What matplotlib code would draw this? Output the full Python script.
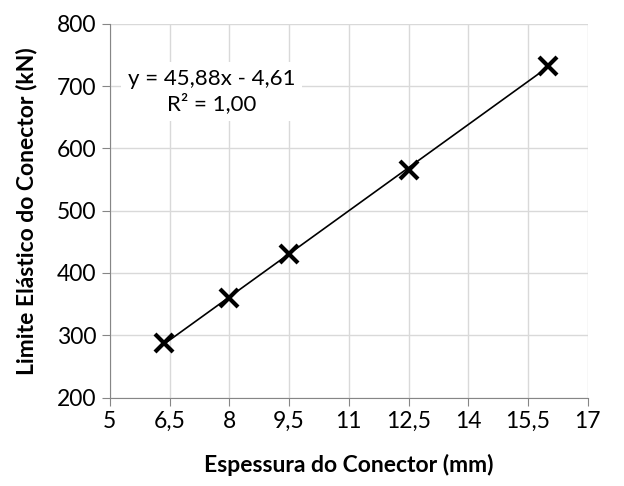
import numpy as np
import matplotlib.pyplot as plt
from matplotlib.ticker import FuncFormatter

plt.rcParams['font.family'] = ['Lato', 'DejaVu Sans']

# dados
espessura = [6.35, 8.0, 9.5, 12.5, 16.0]
limite = [288, 360, 430, 566, 733]
x_ticks = [5, 6.5, 8, 9.5, 11, 12.5, 14, 15.5, 17]
y_ticks = [200, 300, 400, 500, 600, 700, 800]

fig = plt.figure(figsize=(6.24, 4.86), dpi=100)
ax = fig.add_axes([0.176, 0.182, 0.766, 0.769])

ax.set_xlim(5, 17)
ax.set_ylim(200, 800)
ax.set_xticks(x_ticks)
ax.set_yticks(y_ticks)
ax.xaxis.set_major_formatter(FuncFormatter(lambda v, p: f"{v:g}".replace('.', ',')))
ax.grid(True, color='#d9d9d9', lw=1)
ax.set_axisbelow(True)
for s in ['top', 'right']:
    ax.spines[s].set_visible(False)
for s in ['left', 'bottom']:
    ax.spines[s].set_color('#868686')
ax.tick_params(colors='#868686', labelcolor='black', labelsize=16.5, length=6, direction='out')

# linha de tendência
coef = np.polyfit(espessura, limite, 1)
xl = np.array([min(espessura), max(espessura)])
ax.plot(xl, np.polyval(coef, xl), color='black', lw=1.2, zorder=3)
ax.plot(espessura, limite, 'x', color='black', ms=13, mew=3, zorder=4)

ax.text(7.55, 692, "y = 45,88x - 4,61\nR² = 1,00", ha='center', va='center',
        fontsize=16, linespacing=1.25,
        bbox=dict(fc='white', ec='none', pad=5), zorder=5)

ax.set_xlabel("Espessura do Conector (mm)", fontsize=16.5, fontweight='bold', labelpad=16)
ax.set_ylabel("Limite Elástico do Conector (kN)", fontsize=16.5, fontweight='bold', labelpad=14)

fig.savefig('out.png', dpi=100)
